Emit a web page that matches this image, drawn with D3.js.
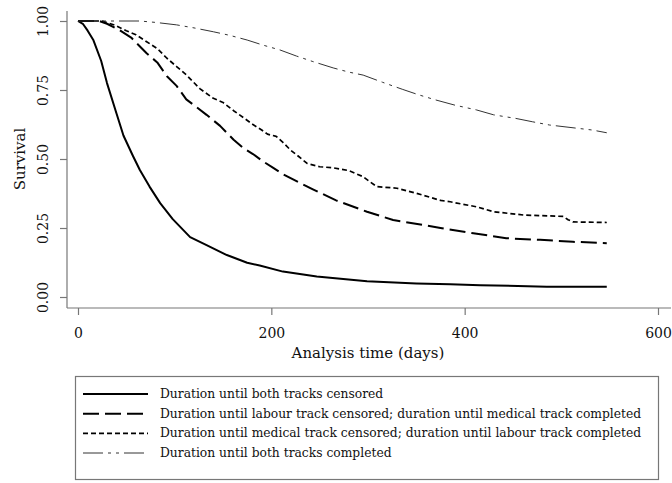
<!DOCTYPE html>
<html><head><meta charset="utf-8">
<script src="https://cdn.jsdelivr.net/npm/d3@7"></script>
<style>html,body{margin:0;padding:0;background:#fff;}svg{display:block;}</style>
</head><body>
<script>
// ---- data (analysis time in days, survival) ----
const seriesNames = [
  "Duration until both tracks censored",
  "Duration until labour track censored; duration until medical track completed",
  "Duration until medical track censored; duration until labour track completed",
  "Duration until both tracks completed"
];
const bothCensored = [[0,1],[5,0.99],[10,0.965],[16,0.93],[24,0.855],[30,0.775],[40,0.663],[47,0.585],[57,0.51],[64,0.46],[74,0.40],[85,0.34],[98,0.282],[116,0.217],[133,0.188],[154,0.152],[175,0.124],[188,0.114],[212,0.092],[247,0.074],[299,0.057],[350,0.049],[385,0.046],[416,0.043],[485,0.037],[547,0.037]];
const labourCensored = [[0,1],[22,1],[30,0.99],[43,0.967],[55,0.94],[71,0.883],[82,0.85],[92,0.80],[102,0.765],[112,0.716],[122,0.69],[133,0.66],[147,0.62],[161,0.57],[171,0.54],[181,0.518],[192,0.49],[202,0.468],[212,0.445],[223,0.425],[243,0.39],[267,0.35],[299,0.309],[326,0.279],[357,0.261],[375,0.25],[409,0.231],[443,0.213],[478,0.207],[512,0.2],[547,0.195]];
const medicalCensored = [[0,1],[25,1],[38,0.985],[50,0.965],[60,0.95],[71,0.925],[82,0.9],[92,0.865],[102,0.835],[112,0.805],[126,0.755],[140,0.72],[150,0.705],[161,0.675],[171,0.65],[181,0.625],[190,0.605],[196,0.59],[205,0.582],[212,0.56],[220,0.532],[228,0.51],[237,0.484],[250,0.472],[264,0.468],[280,0.458],[295,0.436],[301,0.42],[309,0.40],[330,0.394],[350,0.376],[375,0.35],[385,0.345],[412,0.327],[430,0.309],[461,0.297],[502,0.292],[507,0.28],[512,0.272],[547,0.27]];
const bothCompleted = [[0,1],[64,1],[80,0.995],[102,0.986],[120,0.975],[140,0.961],[157,0.948],[175,0.931],[192,0.912],[209,0.895],[226,0.873],[243,0.853],[264,0.83],[280,0.815],[295,0.804],[315,0.778],[336,0.752],[352,0.733],[370,0.714],[390,0.695],[412,0.678],[430,0.66],[453,0.647],[470,0.635],[488,0.623],[510,0.614],[532,0.605],[547,0.595]];
const xTicks = [0,200,400,600];
const yTicks = [0,0.25,0.5,0.75,1];
const xTitle = "Analysis time (days)";
const yTitle = "Survival";

// ---- styles ----
const styles = [
  {w:2, dash:null, color:"#000"},
  {w:2, dash:"16,6", color:"#000"},
  {w:1.7, dash:"5,3", color:"#000"},
  {w:1, dash:"20,5,3,5,3,5", color:"#333"}
];
const allSeries = [bothCensored, labourCensored, medicalCensored, bothCompleted];

const W=672,H=483;
const FONT = "'DejaVu Serif', serif";
const svg = d3.select("body").append("svg").attr("width",W).attr("height",H);

const x = d3.scaleLinear().domain([0,600]).range([78,658]);
const y = d3.scaleLinear().domain([0,1]).range([297,21]);
const axisColor = "#777";

// axis lines
svg.append("line").attr("x1",67).attr("x2",671).attr("y1",308).attr("y2",308).attr("stroke",axisColor).attr("stroke-width",1.2);
svg.append("line").attr("x1",67).attr("x2",67).attr("y1",11).attr("y2",308).attr("stroke",axisColor).attr("stroke-width",1.2);

// x axis
const xAxis = d3.axisBottom(x).tickValues(xTicks).tickSize(7).tickPadding(13).tickFormat(d3.format("d"));
const gx = svg.append("g").attr("transform","translate(0,308)").call(xAxis);
gx.select(".domain").remove();
gx.selectAll(".tick line").attr("stroke",axisColor).attr("stroke-width",1.2);
gx.selectAll(".tick text").attr("font-family",FONT).attr("font-size",14).attr("fill","#111");

// y axis
const yAxis = d3.axisLeft(y).tickValues(yTicks).tickSize(7).tickFormat(d3.format(".2f"));
const gy = svg.append("g").attr("transform","translate(67,0)").call(yAxis);
gy.select(".domain").remove();
gy.selectAll(".tick line").attr("stroke",axisColor).attr("stroke-width",1.2);
gy.selectAll(".tick text").attr("font-family",FONT).attr("font-size",14).attr("fill","#111")
  .attr("x",null).attr("dy",null).attr("text-anchor","middle").attr("dominant-baseline","central")
  .attr("transform","translate(-24,0) rotate(-90)");

// titles
svg.append("text").attr("x",(x(0)+x(600))/2).attr("y",353).attr("text-anchor","middle").attr("dominant-baseline","central")
  .attr("font-family",FONT).attr("font-size",15).attr("fill","#111").text(xTitle);
svg.append("text").attr("transform","translate(20,159) rotate(-90)").attr("text-anchor","middle").attr("dominant-baseline","central")
  .attr("font-family",FONT).attr("font-size",15).attr("fill","#111").text(yTitle);

// curves
const line = d3.line().x(d=>x(d[0])).y(d=>y(d[1]));
allSeries.forEach((s,i)=>{
  svg.append("path").datum(s).attr("d",line).attr("fill","none")
    .attr("stroke",styles[i].color).attr("stroke-width",styles[i].w)
    .attr("stroke-dasharray",styles[i].dash).attr("stroke-linejoin","round");
});

// legend
const lg = svg.append("g");
lg.append("rect").attr("x",75.5).attr("y",376.5).attr("width",583).attr("height",103).attr("fill","#fff").attr("stroke",axisColor).attr("stroke-width",1.2);
const rowY = d3.scalePoint().domain(d3.range(seriesNames.length)).range([394,453]);
seriesNames.forEach((n,i)=>{
  lg.append("line").attr("x1",83).attr("x2",148).attr("y1",rowY(i)).attr("y2",rowY(i))
    .attr("stroke",styles[i].color).attr("stroke-width",styles[i].w).attr("stroke-dasharray",styles[i].dash);
  lg.append("text").attr("x",160).attr("y",rowY(i)).attr("dominant-baseline","central")
    .attr("font-family",FONT).attr("font-size",12.3).attr("fill","#111").text(n);
});
</script>
</body></html>
